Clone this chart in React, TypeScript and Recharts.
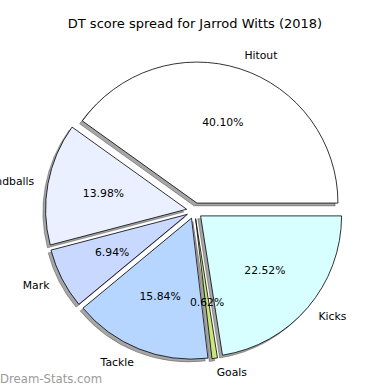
import { PieChart, Pie, Cell, Sector } from "recharts";

const names = ["Hitout", "Handballs", "Mark", "Tackle", "Goals", "Kicks"];
const shares = [40.1, 13.98, 6.94, 15.84, 0.62, 22.52];
const colors = ["#ffffff", "#eaf0ff", "#c8d8ff", "#b6d5ff", "#c9e67c", "#d8ffff"];

const data = names.map((name, i) => ({ name, value: shares[i] }));

const RAD = Math.PI / 180;
const R = 141;
const EXPLODE = 8;
const FONT = "DejaVu Sans, sans-serif";

function offset(midAngle: number, dist: number) {
  return [dist * Math.cos(-midAngle * RAD), dist * Math.sin(-midAngle * RAD)];
}

function WedgeShape(props: any) {
  const { cx, cy, innerRadius, outerRadius, startAngle, endAngle, fill } = props;
  const mid = (startAngle + endAngle) / 2;
  const [dx, dy] = offset(mid, EXPLODE);
  return (
    <Sector
      cx={cx + dx}
      cy={cy + dy}
      innerRadius={innerRadius}
      outerRadius={outerRadius}
      startAngle={startAngle}
      endAngle={endAngle}
      fill={fill}
      stroke="#000"
      strokeWidth={0.8}
    />
  );
}

function ShadowShape(props: any) {
  const { cx, cy, innerRadius, outerRadius, startAngle, endAngle } = props;
  const mid = (startAngle + endAngle) / 2;
  const [dx, dy] = offset(mid, EXPLODE);
  return (
    <Sector
      cx={cx + dx - 2.8}
      cy={cy + dy + 2.8}
      innerRadius={innerRadius}
      outerRadius={outerRadius}
      startAngle={startAngle}
      endAngle={endAngle}
      fill="#000"
      fillOpacity={0.35}
      stroke="#000"
      strokeOpacity={0.35}
      strokeWidth={0.8}
    />
  );
}

function renderLabel(props: any) {
  const { cx, cy, midAngle, outerRadius, name, value } = props;
  const [ex, ey] = offset(midAngle, EXPLODE);
  const [lx, ly] = offset(midAngle, outerRadius * 1.1);
  const [px, py] = offset(midAngle, outerRadius * 0.6);
  const right = Math.cos(midAngle * RAD) >= 0;
  return (
    <g>
      <text
        x={cx + ex + lx}
        y={cy + ey + ly}
        textAnchor={right ? "start" : "end"}
        dominantBaseline="central"
        fontSize={10.8}
        fontFamily={FONT}
        fill="#000"
      >
        {name}
      </text>
      <text
        x={cx + ex + px}
        y={cy + ey + py}
        textAnchor="middle"
        dominantBaseline="central"
        fontSize={10.8}
        fontFamily={FONT}
        fill="#000"
      >
        {value.toFixed(2)}%
      </text>
    </g>
  );
}

export default function App() {
  return (
    <div style={{ position: "absolute", left: 0, top: 0, width: 390, height: 390, background: "#fff", overflow: "hidden" }}>
      <div
        style={{
          position: "absolute",
          top: 16,
          width: 390,
          textAlign: "center",
          fontFamily: FONT,
          fontSize: 13,
          color: "#000",
        }}
      >
        DT score spread for Jarrod Witts (2018)
      </div>
      <PieChart
        width={390}
        height={390}
        margin={{ top: 0, right: 0, bottom: 0, left: 0 }}
        style={{ position: "absolute", left: 0, top: 0 }}
      >
        <Pie
          data={data}
          dataKey="value"
          nameKey="name"
          cx={194.5}
          cy={210.7}
          outerRadius={R}
          startAngle={0}
          endAngle={360}
          stroke="none"
          shape={ShadowShape}
          isAnimationActive={false}
        />
        <Pie
          data={data}
          dataKey="value"
          nameKey="name"
          cx={194.5}
          cy={210.7}
          outerRadius={R}
          startAngle={0}
          endAngle={360}
          shape={WedgeShape}
          label={renderLabel}
          labelLine={false}
          isAnimationActive={false}
        >
          {data.map((d, i) => (
            <Cell key={d.name} fill={colors[i]} />
          ))}
        </Pie>
      </PieChart>
      <div
        style={{
          position: "absolute",
          left: 0,
          top: 372,
          fontFamily: FONT,
          fontSize: 11.7,
          color: "#9a9a9a",
        }}
      >
        Dream-Stats.com
      </div>
    </div>
  );
}
